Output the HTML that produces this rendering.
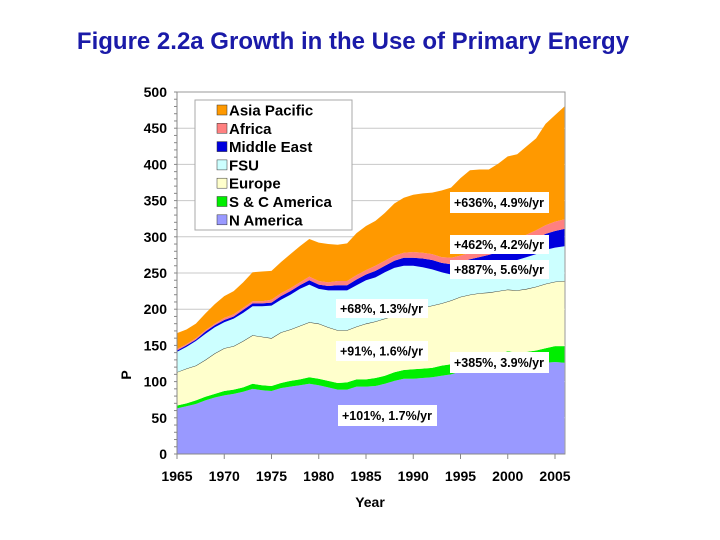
<!DOCTYPE html>
<html><head><meta charset="utf-8"><style>
body{margin:0;background:#fff;}
svg{display:block;font-family:"Liberation Sans",Arial,sans-serif;}
</style></head><body>
<svg id="chart" width="720" height="540" viewBox="0 0 720 540">
<text x="353" y="49" text-anchor="middle" font-size="24" font-weight="bold" fill="#1a1aa8">Figure 2.2a Growth in the Use of Primary Energy</text>
<g id="grid"></g>
<g id="areas"></g>
<g id="axes"></g>
<g id="legend"></g>
<g id="notes"></g>
</svg>
<script>
const years=[];for(let y=1965;y<=2006;y++)years.push(y);
const nAmerica=[63,66,69,74,78,81,83,86,90,88,87,91,93,95,97,95,92,89,89,93,93,94,97,101,104,104,105,106,108,110,114,117,118,119,121,124,122,123,124,126,127,126];
const scAmerica=[4,4,5,5,5,6,6,6,7,7,7,7,8,8,9,9,9,9,10,10,10,11,11,12,12,13,13,13,14,14,15,15,16,17,17,18,18,18,19,20,22,23];
const europe=[46,48,48,51,56,59,60,64,67,67,66,70,71,74,76,76,74,73,72,73,77,78,79,78,79,81,84,86,86,88,88,88,88,87,87,85,86,87,88,89,89,90];
const fsu=[28,30,34,36,36,36,38,39,40,42,45,45,48,51,52,48,51,55,55,57,60,61,64,66,65,62,56,50,43,36,33,33,34,35,37,39,42,44,45,47,47,48];
const middleEast=[2,2,2,3,3,3,3,4,4,4,4,5,5,5,6,6,6,7,7,8,8,9,9,10,11,11,12,13,13,14,15,16,16,17,17,18,19,20,21,22,23,24];
const africa=[2,2,2,2,2,3,3,3,3,3,4,4,4,4,5,5,5,6,6,6,6,7,7,7,7,8,8,8,8,9,9,9,10,10,10,11,11,11,12,12,13,13];
const asiaPacific=[22,20,20,23,27,30,32,35,40,41,40,43,47,50,52,53,53,50,52,58,61,62,66,72,76,79,82,85,92,97,107,114,111,108,112,116,116,122,127,140,147,156];
const yTicks=[0,50,100,150,200,250,300,350,400,450,500];
const xTicks=[1965,1970,1975,1980,1985,1990,1995,2000,2005];
const seriesNames=["N America","S & C America","Europe","FSU","Middle East","Africa","Asia Pacific"];
const seriesColors=["#9999ff","#00ee00","#ffffcc","#ccffff","#0000dd","#ff8080","#ff9900"];
const series=[nAmerica,scAmerica,europe,fsu,middleEast,africa,asiaPacific];
const NS="http://www.w3.org/2000/svg";
const X0=177,X1=565,Y0=454,Y1=92;
const xs=y=>X0+(y-1965)*(555-177)/40;
const ys=v=>Y0-(v)*(Y0-Y1)/500;
function mk(tag,attrs,parent){const e=document.createElementNS(NS,tag);for(const k in attrs)e.setAttribute(k,attrs[k]);parent.appendChild(e);return e;}
const grid=document.getElementById('grid'),areas=document.getElementById('areas'),axes=document.getElementById('axes'),legend=document.getElementById('legend'),notes=document.getElementById('notes');
const bg=mk('rect',{x:X0,y:Y1,width:X1-X0,height:Y0-Y1,fill:'#fff',stroke:'#999','stroke-width':1},grid);


yTicks.forEach(t=>{if(t>0&&t<500){const l=mk('line',{x1:X0,x2:X1,y1:ys(t),y2:ys(t),stroke:'#c8c8c8','stroke-width':1},grid);

}});
let base=years.map(()=>0);
series.forEach((s,i)=>{
 const top=base.map((b,j)=>b+s[j]);
 const topLine='M'+years.map((y,j)=>xs(y)+','+ys(top[j])).join(' L');
 let d=topLine;
 for(let j=years.length-1;j>=0;j--)d+=' L'+xs(years[j])+','+ys(base[j]);
 d+=' Z';
 const p=mk('path',{d:d,fill:seriesColors[i],stroke:'none'},areas);
 
 
 if(i==2){const e=mk('path',{d:topLine,fill:'none',stroke:'#222','stroke-width':0.8},areas);
 
 }
 base=top;
});
mk('line',{x1:X0,x2:X0,y1:Y1,y2:Y0,stroke:'#888'},axes);
mk('line',{x1:X0,x2:X1,y1:Y0,y2:Y0,stroke:'#888'},axes);
for(let v=0;v<=500;v+=10){mk('line',{x1:X0-3,x2:X0,y1:ys(v),y2:ys(v),stroke:'#888'},axes);}
yTicks.forEach(t=>{const tx=mk('text',{x:167,y:ys(t)+5,'text-anchor':'end','font-size':14,'font-weight':'bold',fill:'#000'},axes);tx.textContent=t;

});
xTicks.forEach(t=>{mk('line',{x1:xs(t),x2:xs(t),y1:Y0,y2:Y0+5,stroke:'#888'},axes);
const tx=mk('text',{x:xs(t),y:481,'text-anchor':'middle','font-size':14,'font-weight':'bold',fill:'#000'},axes);tx.textContent=t;

});
const xt=mk('text',{x:370,y:507,'text-anchor':'middle','font-size':14,'font-weight':'bold'},axes);xt.textContent='Year';


const yt=mk('text',{x:131,y:375,'text-anchor':'middle','font-size':14,'font-weight':'bold',transform:'rotate(-90 131 375)'},axes);yt.textContent='P';


const lb=mk('rect',{x:195,y:100,width:157,height:130,fill:'#fff',stroke:'#aaa','stroke-width':1},legend);


for(let k=0;k<7;k++){const i=6-k;const y=110+k*18.3;
 const g=mk('g',{},legend);
 
 
 mk('rect',{x:217,y:y-5,width:10,height:10,fill:seriesColors[i],stroke:'#333','stroke-width':0.5},g);
 const t=mk('text',{x:229,y:y+5.5,'font-size':15,'font-weight':'bold'},g);t.textContent=seriesNames[i];}
const noteText=["+636%, 4.9%/yr","+462%, 4.2%/yr","+887%, 5.6%/yr","+68%, 1.3%/yr","+91%, 1.6%/yr","+385%, 3.9%/yr","+101%, 1.7%/yr"];
const noteBoxes=[[450,192,99,21],[450,235,99,19],[450,260,99,19],[336,299,92,19],[336,341,92,20],[450,352,99,21],[338,405,99,21]];
noteText.forEach((s,i)=>{const b=noteBoxes[i];const g=mk('g',{},notes);
 
 
 mk('rect',{x:b[0],y:b[1],width:b[2],height:b[3],fill:'#fff'},g);
 const t=mk('text',{x:b[0]+4,y:b[1]+b[3]/2+4.5,'font-size':12.5,'font-weight':'bold'},g);t.textContent=s;});
</script>
</body></html>
